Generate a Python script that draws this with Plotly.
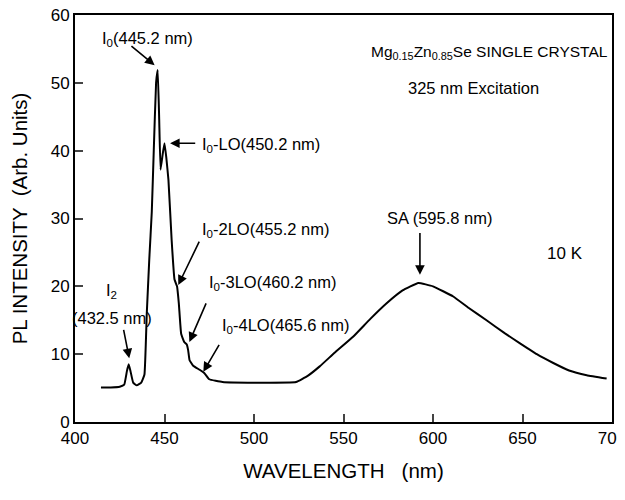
import plotly.graph_objects as go

# Spectrum
wavelength_nm = [414.5, 420, 425, 427.5, 429, 430, 431, 432.5, 434.5, 437, 438.8, 440.1,
                 441.5, 442.9, 444, 445.3, 446.2, 447, 447.8, 449, 450, 451, 452.2, 454,
                 455.6, 457, 458, 459.3, 461, 462.5, 463.2, 464, 466, 469.6, 472.3, 475,
                 482.4, 500, 523.5, 530, 536.7, 545, 555.5, 565, 574.1, 583, 591.8, 600,
                 611.3, 620, 629.9, 640, 648.6, 658, 667.2, 676, 685.9, 697]
pl_intensity = [5.1, 5.1, 5.2, 5.5, 7.5, 8.5, 7.5, 5.8, 5.4, 5.8, 7.0, 16.0,
                24.0, 31.0, 40.0, 50.0, 51.9, 45.0, 37.2, 39.5, 41.1, 39.0, 35.7, 26.8,
                21.0, 20.0, 17.5, 13.0, 11.8, 11.4, 10.6, 9.1, 8.3, 7.7, 7.2, 6.3,
                5.9, 5.8, 5.9, 6.8, 8.2, 10.2, 12.6, 15.2, 17.5, 19.4, 20.5, 20.0,
                18.5, 16.8, 15.0, 13.1, 11.6, 10.0, 8.7, 7.6, 6.9, 6.4]

x_ticks = [400, 450, 500, 550, 600, 650, 700]
y_ticks = [0, 10, 20, 30, 40, 50, 60]

# Peak labels: text, text position, arrow tail, arrow head
peak_labels = ["I<sub>0</sub>(445.2 nm)", "I<sub>0</sub>-LO(450.2 nm)",
               "I<sub>0</sub>-2LO(455.2 nm)", "I<sub>0</sub>-3LO(460.2 nm)",
               "I<sub>0</sub>-4LO(465.6 nm)", "SA (595.8 nm)"]
label_x = [414.0, 469.8, 469.8, 473.6, 481.0, 603.9]
label_y = [56.4, 40.9, 28.3, 20.5, 14.1, 30.1]
label_anchor = ["left", "left", "left", "left", "left", "center"]
arrow_tail_x = [430.7, 468.0, 469.8, 473.6, 481.0, 592.7, 427.0]
arrow_tail_y = [55.6, 41.1, 26.8, 17.7, 11.6, 28.1, 13.8]
arrow_head_x = [444.5, 453.1, 457.7, 463.9, 471.7, 592.7, 430.3]
arrow_head_y = [52.6, 41.1, 20.2, 11.8, 7.4, 21.7, 9.4]

font_family = "Liberation Sans, Arial, sans-serif"

fig = go.Figure()
fig.add_trace(go.Scatter(x=wavelength_nm, y=pl_intensity, mode="lines",
                         line=dict(color="black", width=2, shape="spline", smoothing=0.3),
                         showlegend=False, hoverinfo="skip"))

annotations = []
for t, x, y, a in zip(peak_labels, label_x, label_y, label_anchor):
    annotations.append(dict(x=x, y=y, xref="x", yref="y", text=t, showarrow=False,
                            xanchor=a, yanchor="middle",
                            font=dict(size=16.5, color="black", family=font_family)))
for tx, ty, hx, hy in zip(arrow_tail_x, arrow_tail_y, arrow_head_x, arrow_head_y):
    annotations.append(dict(x=hx, y=hy, ax=tx, ay=ty, xref="x", yref="y",
                            axref="x", ayref="y", text="", showarrow=True,
                            arrowhead=2, arrowsize=1.2, arrowwidth=1.6, arrowcolor="black"))
# I2 label
annotations.append(dict(x=420.5, y=19.3, xref="x", yref="y", text="I<sub>2</sub>",
                        showarrow=False, font=dict(size=16.5, color="black", family=font_family)))
annotations.append(dict(x=420.5, y=15.3, xref="x", yref="y", text="(432.5 nm)",
                        showarrow=False, font=dict(size=16.5, color="black", family=font_family)))
# Sample info
annotations.append(dict(x=631.8, y=54.4, xref="x", yref="y",
                        text="Mg<sub>0.15</sub>Zn<sub>0.85</sub>Se SINGLE CRYSTAL",
                        showarrow=False, font=dict(size=15.5, color="black", family=font_family)))
annotations.append(dict(x=622.9, y=49.3, xref="x", yref="y", text="325 nm Excitation",
                        showarrow=False, font=dict(size=16.5, color="black", family=font_family)))
annotations.append(dict(x=673.7, y=24.9, xref="x", yref="y", text="10 K",
                        showarrow=False, font=dict(size=17, color="black", family=font_family)))

# The page body adds an 8 px offset; margins compensate so the frame sits where the reference has it
fig.update_layout(
    width=625, height=492,
    margin=dict(l=67, r=21, t=7, b=78),
    paper_bgcolor="white", plot_bgcolor="white",
    font=dict(family=font_family, color="black"),
    annotations=annotations,
    xaxis=dict(range=[400, 700], tickvals=x_ticks, ticks="inside", ticklen=8, tickwidth=1.5,
               showline=True, linecolor="black", linewidth=2, mirror=True, showgrid=False,
               zeroline=False, tickfont=dict(size=17), ticklabeloverflow="allow",
               automargin=False,
               title=dict(text="WAVELENGTH   (nm)", font=dict(size=20.5), standoff=16)),
    yaxis=dict(range=[0, 60], tickvals=y_ticks, ticks="inside", ticklen=8, tickwidth=1.5,
               showline=True, linecolor="black", linewidth=2, mirror=True, showgrid=False,
               zeroline=False, tickfont=dict(size=17), automargin=False,
               ticklabeloverflow="allow",
               title=dict(text="PL INTENSITY  (Arb. Units)", font=dict(size=20.5), standoff=24)),
)

fig.write_html("out.html")
